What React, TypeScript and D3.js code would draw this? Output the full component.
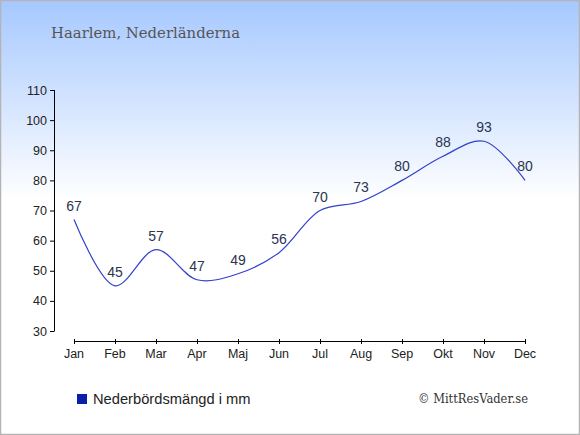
import React from "react";
import * as d3 from "d3";

const months = ["Jan", "Feb", "Mar", "Apr", "Maj", "Jun", "Jul", "Aug", "Sep", "Okt", "Nov", "Dec"];
const precipitation = [67, 45, 57, 47, 49, 56, 70, 73, 80, 88, 93, 80];
const yTicks = [30, 40, 50, 60, 70, 80, 90, 100, 110];
const title = "Haarlem, Nederländerna";
const legendLabel = "Nederbördsmängd i mm";
const credit = "© MittResVader.se";

const W = 580;
const H = 435;

export default function App() {
  const x = d3.scalePoint<string>().domain(months).range([74, 525]);
  const y = d3.scaleLinear().domain([30, 110]).range([331, 90]);
  const line = d3
    .line<number>()
    .x((_, i) => x(months[i]) as number)
    .y((d) => y(d))
    .curve(d3.curveCatmullRom.alpha(0.5));
  const sans = "Arial, 'Liberation Sans', sans-serif";
  const serif = "Georgia, 'DejaVu Serif', serif";
  return (
    <div style={{ position: "fixed", left: 0, top: 0 }}>
      <svg width={W} height={H} style={{ display: "block" }}>
        <defs>
          <linearGradient id="bg" x1="0" y1="0" x2="0" y2="1">
            <stop offset="0" stopColor="#a6c8ff" />
            <stop offset="0.46" stopColor="#ffffff" />
            <stop offset="1" stopColor="#ffffff" />
          </linearGradient>
        </defs>
        <rect x={0.5} y={0.5} width={W - 1} height={H - 1} fill="url(#bg)" stroke="#b4b4b4" strokeWidth={1.5} />
        <text x={51} y={37.5} fontFamily={serif} fontSize={15} fill="#555555" textLength={189} lengthAdjust="spacingAndGlyphs">
          {title}
        </text>
        {/* y axis */}
        <line x1={54.5} x2={54.5} y1={y(110)} y2={y(30)} stroke="#000" />
        {yTicks.map((t) => (
          <g key={t}>
            <line x1={50} x2={54.5} y1={y(t) + 0.5} y2={y(t) + 0.5} stroke="#000" />
            <text x={47} y={y(t) + 4.5} textAnchor="end" fontFamily={sans} fontSize={12.5} fill="#222">
              {t}
            </text>
          </g>
        ))}
        {/* x axis */}
        <line x1={x("Jan")} x2={x("Dec")} y1={341.5} y2={341.5} stroke="#000" />
        {months.map((m) => (
          <g key={m}>
            <line x1={(x(m) as number) + 0.5} x2={(x(m) as number) + 0.5} y1={339} y2={344} stroke="#000" />
            <text x={x(m)} y={358} textAnchor="middle" fontFamily={sans} fontSize={12.5} fill="#222">
              {m}
            </text>
          </g>
        ))}
        <path d={line(precipitation) || ""} fill="none" stroke="#3340cc" strokeWidth={1.2} />
        {precipitation.map((v, i) => (
          <text
            key={i}
            x={x(months[i])}
            y={y(v) - 9}
            textAnchor="middle"
            fontFamily={sans}
            fontSize={14}
            fill="#2a3550"
          >
            {v}
          </text>
        ))}
        {/* legend */}
        <rect x={77} y={394} width={10} height={10} fill="#0a1eaa" />
        <text x={93} y={404} fontFamily={sans} fontSize={14.7} fill="#222">
          {legendLabel}
        </text>
        <text x={418} y={403} fontFamily={serif} fontSize={13} fill="#333" textLength={110} lengthAdjust="spacingAndGlyphs">
          {credit}
        </text>
      </svg>
    </div>
  );
}
